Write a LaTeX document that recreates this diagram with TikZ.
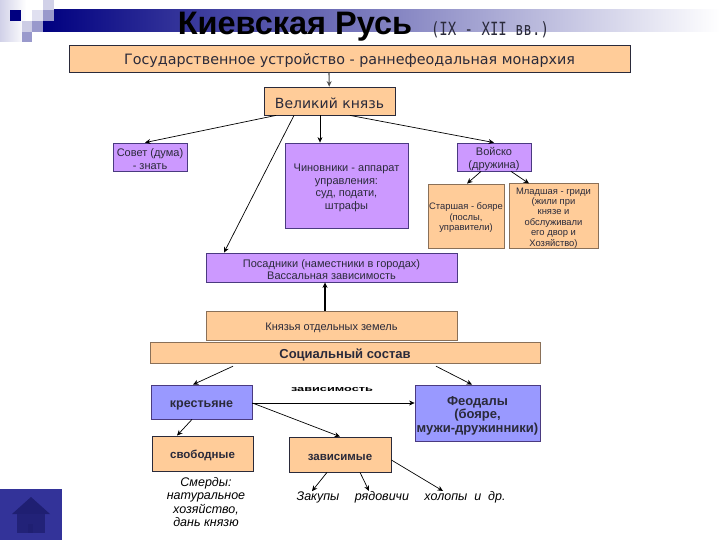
\documentclass[tikz,border=0pt]{standalone}
\usepackage{fontspec}
\usetikzlibrary{arrows.meta}
\setmainfont{Liberation Sans}
\newfontfamily\handfont{DejaVu Sans}
\newfontfamily\monofont{DejaVu Sans Mono}
\newcommand{\lowline}{\rule{0pt}{1.1em}}
\definecolor{peach}{HTML}{FFCC99}
\definecolor{lilac}{HTML}{CC99FF}
\definecolor{periwinkle}{HTML}{9999FF}
\definecolor{navy}{HTML}{000080}
\definecolor{inkgrey}{HTML}{2A2A3A}
\definecolor{softedge}{HTML}{8A7058}
\definecolor{lilacedge}{HTML}{4A3A80}
\definecolor{tile}{HTML}{9999CC}
\definecolor{homeblue}{HTML}{333399}
\definecolor{homedark}{HTML}{1F1F72}
\tikzset{
  box/.style={draw=inkgrey, line width=0.8pt, inner sep=0pt, text=inkgrey, align=center},
  peachbox/.style={box, fill=peach},
  softbox/.style={box, fill=peach, draw=softedge},
  lilacbox/.style={box, fill=lilac, draw=lilacedge},
  blueBox/.style={box, fill=periwinkle, draw=lilacedge},
  small/.style={font=\fontsize{11}{12.5}\selectfont},
  tiny/.style={font=\fontsize{9.4}{10.4}\selectfont},
  note/.style={font=\fontsize{12.5}{13.4}\selectfont\itshape, align=center, inner sep=0pt, text=black},
  link/.style={-{Stealth[length=5.5pt, width=5pt]}, line width=0.7pt, black}
}
\begin{document}
\begin{tikzpicture}[x=1pt, y=-1pt]
  \useasboundingbox (0,0) rectangle (720,540);
  \shade[left color=tile!45, right color=white] (0,0) rectangle (26,42);
  \shade[left color=navy, right color=white] (43,10) rectangle (720,32);
  \fill[tile!45] (43,0) rectangle (54,10);
  \fill[white] (32,10) rectangle (43,21);
  \fill[tile!30] (32,10) rectangle (43,21);
  \fill[tile] (43,10) rectangle (54,21);
  \fill[tile] (32,21) rectangle (43,32);
  \fill[tile!50] (22,21) rectangle (32,32);
  \fill[tile] (22,32) rectangle (32,42);
  \fill[navy] (10,10) rectangle (21,21);
  \node[font=\bfseries\fontsize{32.5}{32}\selectfont, text=black] (title) at (295,27) {Киевская Русь};
  \node[font=\fontsize{14}{14}\monofont, text=inkgrey, yscale=1.3] (age) at (490,30) {(IX - XII вв.)};
  \draw
    (349.5,58.5) node[peachbox, minimum width=561pt, minimum height=27pt, font=\fontsize{14.3}{14}\handfont] (head) {\lowline Государственное устройство - раннефеодальная монархия}
    (329.5,101) node[peachbox, minimum width=131pt, minimum height=28pt, font=\fontsize{14}{14}\handfont] (prince) {\lowline Великий князь}
    (150,157) node[lilacbox, minimum width=74pt, minimum height=28pt, small] (duma) {\lowline Совет (дума)\\- знать}
    (346.5,185.5) node[lilacbox, minimum width=123pt, minimum height=85pt, small] (clerks) {\lowline Чиновники - аппарат\\управления:\\суд, подати,\\штрафы}
    (494,157) node[lilacbox, minimum width=74pt, minimum height=28pt, small] (army) {\lowline Войско\\(дружина)}
    (466,216) node[softbox, minimum width=76pt, minimum height=64pt, tiny] (elder) {\lowline Старшая - бояре\\(послы,\\управители)}
    (553.5,216) node[softbox, minimum width=89pt, minimum height=64pt, tiny] (junior) {\lowline Младшая - гриди\\(жили при\\князе и\\обслуживали\\его двор и\\Хозяйство)}
    (331.5,267.5) node[lilacbox, minimum width=251pt, minimum height=29pt, small] (mayors) {\lowline Посадники (наместники в городах)\\Вассальная зависимость}
    (331.5,325.5) node[softbox, minimum width=251pt, minimum height=29pt, small] (lands) {\lowline Князья отдельных земель}
    (345,352.5) node[softbox, line width=0.4pt, minimum width=390pt, minimum height=21pt, font=\bfseries\fontsize{13}{13}\selectfont] (social) {\lowline Социальный состав}
    (201.5,402) node[blueBox, minimum width=101pt, minimum height=34pt, font=\bfseries\fontsize{12.5}{13}\selectfont] (peasants) {\lowline крестьяне}
    (477.5,413) node[blueBox, minimum width=125pt, minimum height=56pt, font=\bfseries\fontsize{13}{13.5}\selectfont] (lords) {\lowline Феодалы\\(бояре,\\мужи-дружинники)}
    (202.5,453.5) node[peachbox, minimum width=101pt, minimum height=35pt, font=\bfseries\fontsize{11.5}{12}\selectfont] (free) {\lowline свободные}
    (340,454.5) node[peachbox, minimum width=102pt, minimum height=35pt, font=\bfseries\fontsize{11.5}{12}\selectfont] (bound) {\lowline зависимые}
    (332,390) node[inner sep=0pt, xscale=1.7, font=\bfseries\fontsize{7.5}{8}\selectfont] (depend) {зависимость}
    (206,502) node[note] (smerdy) {Смерды:\\натуральное\\хозяйство,\\дань князю}
    (318,497) node[note] (zakupy) {Закупы}
    (382,497) node[note] (ryad) {рядовичи}
    (465,497) node[note] (kholopy) {холопы~~и~~др.};
  \begin{scope}[link]
    \draw[line width=1.1pt, black!70] (head.south -| 329,0) to (prince);
    \draw (prince.south -| 276,0) to (duma.north -| 145,0);
    \draw (prince.south -| 294,0) to (mayors.north -| 224,0);
    \draw (prince.south -| 320,0) to (clerks.north -| 320,0);
    \draw (prince.south -| 350,0) to (army.north);
    \draw (army.south -| 481,0) to (elder.north -| 467,0);
    \draw (army.south -| 511,0) to (junior.north -| 529,0);
    \draw[line width=1.4pt] (lands.north -| 325,0) to (mayors.south -| 325,0);
    \draw (social.south -| 233,0) ++(0,3) to (peasants.north -| 193,0);
    \draw (social.south -| 436,0) ++(0,3) to (lords.north -| 472,0);
    \draw (peasants.east |- 0,403) to (lords.west |- 0,403);
    \draw (peasants.east |- 0,403) to (bound.north);
    \draw (peasants.south -| 192,0) to (free.north -| 177,0);
    \draw (bound.south -| 327,0) to (zakupy.north -| 312,0);
    \draw (bound.south -| 360,0) to (ryad.north -| 369,0);
    \draw (bound.east |- 0,460) to (kholopy.north -| 443,0);
  \end{scope}
  \fill[homeblue] (0,489) rectangle (62,540);
  \fill[homedark] (31,497) -- (50,514) -- (12,514) -- cycle;
  \fill[homedark!85!homeblue] (17,514) rectangle (45,533);
  \fill[homedark] (28,524) rectangle (33,533);
\end{tikzpicture}
\end{document}
